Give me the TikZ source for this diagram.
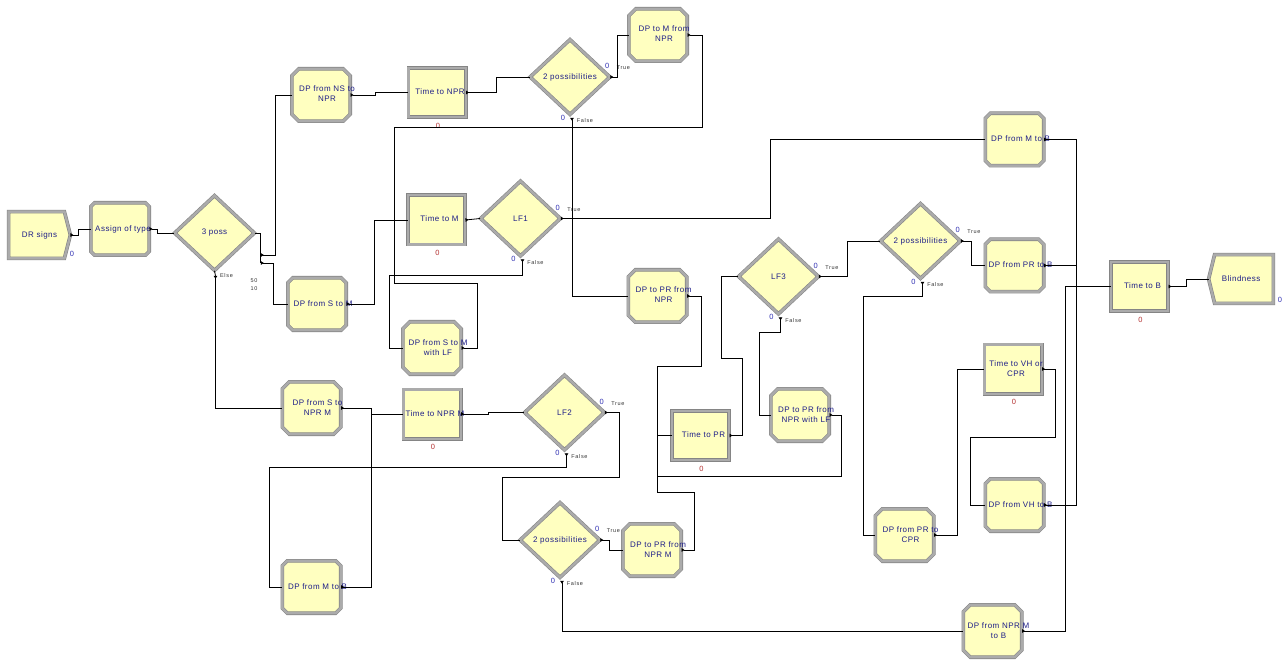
\documentclass[tikz,border=0pt]{standalone}
\usepackage{fontspec}
\setmainfont{Liberation Sans}
\newfontfamily\modfont[LetterSpace=6]{Liberation Sans}
\newfontfamily\tffont[LetterSpace=12]{Liberation Sans}
\usetikzlibrary{shapes.misc,shapes.geometric,arrows.meta,calc,backgrounds}
\definecolor{modfill}{HTML}{FFFFC0}
\definecolor{modframe}{HTML}{ABABAB}
\definecolor{modedge}{HTML}{858585}
\definecolor{txtblue}{HTML}{1E1E88}
\definecolor{cntblue}{HTML}{3232B4}
\definecolor{cntred}{HTML}{B43232}
\newcommand\octt[1]{\makebox[0pt]{\kern6pt\begin{tabular}{@{}c@{}}#1\end{tabular}\kern-6pt}}
\newcommand\proct[1]{\makebox[0pt]{\kern3pt\begin{tabular}{@{}c@{}}#1\end{tabular}\kern-3pt}}
\newcommand\dect[1]{\makebox[0pt]{#1}}
\begin{document}
\begin{tikzpicture}[x=1pt,y=-1pt,
  base/.style={draw=modedge, double=modframe, double distance=2.4pt, line width=0.6pt,
    fill=modfill, inner sep=0pt, font=\modfont\fontsize{8}{10}\selectfont, text=txtblue},
  oct/.style={base, chamfered rectangle, chamfered rectangle xsep=7pt,
    chamfered rectangle ysep=7pt, minimum width=58.4pt, minimum height=52.4pt},
  proc/.style={base, rectangle, minimum width=57.4pt, minimum height=49.4pt},
  dec/.style={base, diamond, minimum width=80pt, minimum height=75pt},
  term/.style={inner sep=0pt, font=\modfont\fontsize{8}{10}\selectfont, text=txtblue},
  conn/.style={line width=0.8pt, {Triangle[reversed,length=3pt,width=3.6pt]}-},
  stub/.style={line width=0.8pt},
  cnt/.style={inner sep=0pt, font=\fontsize{7.5}{8}\selectfont, text=cntblue},
  cntr/.style={cnt, text=cntred},
  tf/.style={inner sep=0pt, font=\tffont\fontsize{5.5}{6}\selectfont, text=black!80},
]
\useasboundingbox (0,0) rectangle (1285,660);
\begin{scope}[on background layer]
  \fill[white] (0,0) rectangle (1285,660);
\end{scope}

% ---------- terminal modules ----------
\node[term, minimum width=61.4pt, minimum height=46.4pt] (dr) at (39.5,235) {DR signs};
\node[term, minimum width=64.4pt, minimum height=48.4pt] (blind) at (1241,279) {Blindness};
\begin{scope}[on background layer]
  \draw[base] (dr.north west) -- ($(dr.north east)+(-6,0)$) -- (dr.east)
     -- ($(dr.south east)+(-6,0)$) -- (dr.south west) -- cycle;
  \draw[base] (blind.west) -- ($(blind.north west)+(6,0)$) -- (blind.north east)
     -- (blind.south east) -- ($(blind.south west)+(6,0)$) -- cycle;
\end{scope}

% ---------- octagon modules ----------
\node[oct] (assign) at (120,229) {\makebox[0pt]{\kern3pt Assign of type\kern-3pt}};
\node[oct] (dpNS) at (321,95) {\octt{DP from NS to\\NPR}};
\node[oct] (dpMfromNPR) at (658,35) {\octt{DP to M from\\NPR}};
\node[oct] (dpStoM) at (317,304) {\octt{DP from S to M}};
\node[oct] (dpStoMLF) at (432,348) {\octt{DP from S to M\\with LF}};
\node[oct] (dpStoNPRM) at (311.5,408) {\octt{DP from S to\\NPR M}};
\node[oct] (dpMtoBl) at (311.5,587) {\octt{DP from M to B}};
\node[oct] (dpPRfromNPR) at (657.5,296) {\octt{DP to PR from\\NPR}};
\node[oct] (dpPRfromNPRM) at (652,550) {\octt{DP to PR from\\NPR M}};
\node[oct] (dpPRfromNPRLF) at (800,415) {\octt{DP to PR from\\NPR with LF}};
\node[oct] (dpMtoB) at (1014.5,139.5) {\octt{DP from M to B}};
\node[oct] (dpPRtoB) at (1014.5,265.5) {\octt{DP from PR to B}};
\node[oct] (dpVHtoB) at (1014.5,505) {\octt{DP from VH to B}};
\node[oct] (dpPRtoCPR) at (904.5,535) {\octt{DP from PR to\\CPR}};
\node[oct] (dpNPRMtoB) at (992.5,631) {\octt{DP from NPR M\\to B}};

% ---------- process modules ----------
\node[proc] (tNPR) at (437,92.5) {\proct{Time to NPR}};
\node[proc] (tM) at (436.5,220) {\proct{Time to M}};
\node[proc] (tNPRM) at (432,414) {\proct{Time to NPR M}};
\node[proc] (tPR) at (700.5,435.5) {\proct{Time to PR}};
\node[proc] (tVH) at (1013,369) {\proct{Time to VH or\\CPR}};
\node[proc] (tB) at (1139.5,286.5) {\proct{Time to B}};

% ---------- decide modules ----------
\node[dec] (poss3) at (214.5,233) {\dect{3 poss}};
\node[dec] (possTop) at (570,77) {\dect{2 possibilities}};
\node[dec] (lf1) at (520.5,218.5) {\dect{LF1}};
\node[dec] (lf2) at (564.5,412.5) {\dect{LF2}};
\node[dec] (possLow) at (560,540) {\dect{2 possibilities}};
\node[dec] (lf3) at (778.5,276.5) {\dect{LF3}};
\node[dec] (possRight) at (920.5,241) {\dect{2 possibilities}};

% ---------- counters ----------
\node[cnt] (cdr) at (72,254) {0};
\node[cnt] (cbl) at (1280,300) {0};
\foreach \p in {tNPR,tM,tNPRM,tPR,tVH,tB}{
  \node[cntr] (c\p) at ($(\p.south)+(1,8)$) {0};
}
\foreach \d in {possTop,lf1,lf2,possLow,lf3,possRight}{
  \node[cnt] (ct\d) at ($(\d.east)+(-3,-11)$) {0};
  \node[tf] (lt\d) at ($(\d.east)+(13,-9)$) {True};
  \node[cnt] (cf\d) at ($(\d.south)+(-7,3)$) {0};
  \node[tf] (lf\d) at ($(\d.south)+(15,6)$) {False};
}
\node[tf] (lelse) at ($(poss3.south)+(12,5)$) {Else};
\node[tf] (l50) at (254,281) {50};
\node[tf] (l10) at (254,289) {10};

% ---------- routing points ----------
\coordinate (p3a) at ($(poss3.east)+(6,22)$);
\coordinate (p3b) at ($(poss3.east)+(6,30)$);
\coordinate (p3e) at ($(poss3.south)+(1,5)$);
\coordinate (jM) at (394,127);
\coordinate (jM2) at (394,283);
\coordinate (jL2) at (502,477);
\coordinate (jPR) at (657,366);
\coordinate (jPR2) at (657,492);
\coordinate (jPR3) at (657,476);
\coordinate (jLF3) at (721,358);
\coordinate (jVH) at (970,437);
\foreach \d in {possTop,lf1,lf2,possLow,lf3,possRight}{
  \coordinate (f\d) at ($(\d.south)+(2,3)$);
}

% ---------- connectors ----------
\draw[conn] (dr.east) -- ++(8,0) |- (assign.west);
\draw[conn] (assign.east) -- ++(8,0) |- (poss3.west);
\draw[stub] (poss3.east) -- ++(6,0) -- (p3b);
\draw[stub] (poss3.south) -- (p3e);
\draw[conn] (p3a) -- ++(15,0) |- (dpNS.west);
\draw[conn] (p3b) -- ++(13,0) |- (dpStoM.west);
\draw[conn] (p3e) |- (dpStoNPRM.west);

\draw[conn] (dpNS.east) -- ++(25,0) |- (tNPR.west);
\draw[conn] (tNPR.east) -- ++(30,0) |- (possTop.west);
\draw[conn] (possTop.east) -- ++(7,0) |- (dpMfromNPR.west);
\draw[conn] (fpossTop) |- (dpPRfromNPR.west);
\draw[conn] (dpMfromNPR.east) -- ++(15,0) |- (jM) |- (tM.west);
\draw[conn] (dpStoM.east) -- ++(28,0) |- (tM.west);
\draw[conn] (dpStoMLF.east) -- ++(16,0) |- (jM2) |- (tM.west);
\draw[conn] (tM.east) -- (lf1.west);
\draw[conn] (lf1.east) -- ++(210,0) |- (dpMtoB.west);
\draw[conn] (flf1) -- ++(0,16) -| ($(dpStoMLF.west)+(-13,0)$) -- (dpStoMLF.west);

\draw[conn] (dpStoNPRM.east) -- ++(30,0) |- (tNPRM.west);
\draw[conn] (dpMtoBl.east) -- ++(30,0) |- (tNPRM.west);
\draw[conn] (tNPRM.east) -- ++(27,0) |- (lf2.west);
\draw[conn] (lf2.east) -- ++(15,0) |- (jL2) |- (possLow.west);
\draw[conn] (flf2) -- ++(0,14) -| ($(dpMtoBl.west)+(-13,0)$) -- (dpMtoBl.west);
\draw[conn] (possLow.east) -- ++(9,0) |- (dpPRfromNPRM.west);
\draw[conn] (fpossLow) |- (dpNPRMtoB.west);

\draw[conn] (dpPRfromNPR.east) -- ++(14,0) |- (jPR) |- (tPR.west);
\draw[conn] (dpPRfromNPRM.east) -- ++(13,0) |- (jPR2) |- (tPR.west);
\draw[conn] (dpPRfromNPRLF.east) -- ++(12,0) |- (jPR3) |- (tPR.west);
\draw[conn] (tPR.east) -- ++(13,0) |- (jLF3) |- (lf3.west);
\draw[conn] (lf3.east) -- ++(29,0) |- (possRight.west);
\draw[conn] (flf3) -- ++(0,15) -| ($(dpPRfromNPRLF.west)+(-11,0)$) -- (dpPRfromNPRLF.west);

\draw[conn] (possRight.east) -- ++(11,0) |- (dpPRtoB.west);
\draw[conn] (fpossRight) -- ++(0,15) -| ($(dpPRtoCPR.west)+(-12,0)$) -- (dpPRtoCPR.west);
\draw[conn] (dpPRtoCPR.east) -- ++(23,0) |- (tVH.west);
\draw[conn] (tVH.east) -- ++(13,0) |- (jVH) |- (dpVHtoB.west);

\draw[conn] (dpMtoB.east) -- ++(32,0) |- (tB.west);
\draw[conn] (dpPRtoB.east) -- ++(32,0) |- (tB.west);
\draw[conn] (dpVHtoB.east) -- ++(32,0) |- (tB.west);
\draw[conn] (dpNPRMtoB.east) -- ++(43,0) |- (tB.west);
\draw[conn] (tB.east) -- ++(18,0) |- (blind.west);
\end{tikzpicture}
\end{document}
